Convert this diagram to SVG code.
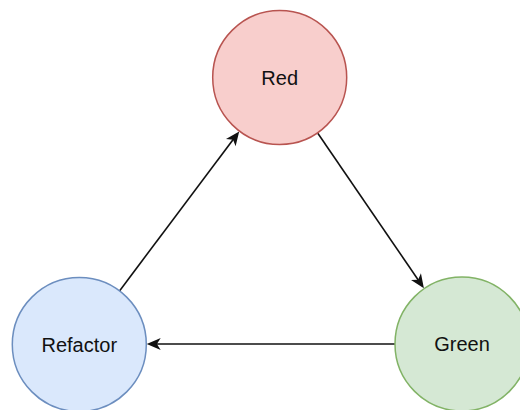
<svg xmlns="http://www.w3.org/2000/svg" width="520" height="410" viewBox="0 0 520 410">
  <style>
    .node circle { stroke-width: 1.5; }
    .red circle { fill: #f8cecc; stroke: #b85450; }
    .green circle { fill: #d5e8d4; stroke: #82b366; }
    .blue circle { fill: #dae8fc; stroke: #6c8ebf; }
    .node text { font-family: "Liberation Sans", Arial, sans-serif; font-size: 20px; fill: #111; text-anchor: middle; }
    .edge { fill: none; stroke: #111; stroke-width: 1.6; marker-end: url(#arrow); }
  </style>
  <defs>
    <marker id="arrow" markerUnits="userSpaceOnUse" markerWidth="15" markerHeight="13" refX="8" refY="6" orient="auto" overflow="visible">
      <path d="M0,0 L14,6 L0,12 L3.8,6 Z" fill="#111"/>
    </marker>
  </defs>
  <rect width="520" height="410" fill="#ffffff"/>

  <g id="connectors">
    <!-- Red to Green -->
    <line class="edge" x1="317.8" y1="133.2" x2="420.5" y2="283.3"/>
    <!-- Green to Refactor -->
    <line class="edge" x1="395" y1="344" x2="152.7" y2="344"/>
    <!-- Refactor to Red -->
    <line class="edge" x1="119.5" y1="290.9" x2="235.6" y2="136.3"/>
  </g>

  <g id="node-red" class="node red">
    <circle cx="279.7" cy="77.5" r="67"/>
    <text x="279.7" y="84.5">Red</text>
  </g>
  <g id="node-green" class="node green">
    <circle cx="462" cy="344" r="67"/>
    <text x="462" y="351">Green</text>
  </g>
  <g id="node-refactor" class="node blue">
    <circle cx="79.3" cy="344.5" r="67"/>
    <text x="79.3" y="351.5">Refactor</text>
  </g>
</svg>
